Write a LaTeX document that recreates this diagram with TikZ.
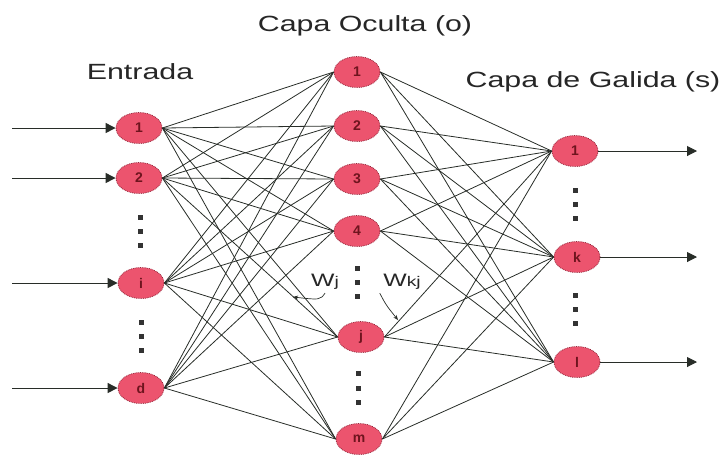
\documentclass[tikz,border=0pt]{standalone}
\usepackage{fontspec}
\setmainfont{Liberation Sans}
\newfontfamily\lab[FakeStretch=1.38]{Liberation Sans}
\usetikzlibrary{shapes.geometric,arrows.meta}
\definecolor{nfill}{RGB}{236,84,110}
\definecolor{nbord}{RGB}{150,40,60}
\definecolor{ntext}{RGB}{110,20,30}
\definecolor{wire}{RGB}{40,45,40}
\tikzset{
  neuron/.style={ellipse, draw=nbord, densely dotted, line width=0.8pt, fill=nfill,
     minimum width=46pt, minimum height=31pt, inner sep=0pt, text=ntext,
     font=\fontsize{14}{14}\selectfont\bfseries},
  wirel/.style={draw=wire, line width=0.8pt},
  io/.style={draw=wire, line width=1pt, -{Triangle[length=10pt,width=10pt]}},
  dotsq/.style={fill=black!80, minimum width=5pt, minimum height=5pt, inner sep=0pt},
  title/.style={font=\lab\fontsize{22}{26}\selectfont, text=black!85},
  wlab/.style={font=\lab\fontsize{18}{20}\selectfont, text=black!85},
  wtip/.style={draw=wire, line width=0.7pt, -{Stealth[length=5pt,width=4pt]}}
}
\begin{document}
\begin{tikzpicture}[x=1pt,y=-1pt]
\useasboundingbox (0,0) rectangle (727,459);
% titles
\node[title] (tO) at (365,26) {Capa Oculta (o)};
\node[title] (tE) at (140,72) {Entrada};
\node[title] (tS) at (593,82) {Capa de Galida (s)};
% input layer
\node[neuron] (i1) at (139,128) {1};
\node[neuron] (i2) at (139,178) {2};
\node[neuron] (ii) at (141,283) {i};
\node[neuron] (id) at (141,388) {d};
% hidden layer
\node[neuron] (h1) at (357,72) {1};
\node[neuron] (h2) at (357,126) {2};
\node[neuron] (h3) at (357,179) {3};
\node[neuron] (h4) at (357,231) {4};
\node[neuron] (hj) at (361,337) {j};
\node[neuron] (hm) at (359,439) {m};
% output layer
\node[neuron] (o1) at (575,151) {1};
\node[neuron] (ok) at (577,257) {k};
\node[neuron] (ol) at (577,362) {l};
% connections input -> hidden
\foreach \a in {i1,i2,ii,id}{
  \foreach \b in {h1,h2,h3,h4,hj,hm}{
    \draw[wirel] (\a.east) -- (\b.west);
  }
}
% connections hidden -> output
\foreach \a in {h1,h2,h3,h4,hj,hm}{
  \foreach \b in {o1,ok,ol}{
    \draw[wirel] (\a.east) -- (\b.west);
  }
}
% input arrows
\coordinate (s1) at (12,128);
\coordinate (s2) at (12,178);
\coordinate (si) at (12,283);
\coordinate (sd) at (12,388);
\draw[io] (s1) -- (i1.west);
\draw[io] (s2) -- (i2.west);
\draw[io] (si) -- (ii.west);
\draw[io] (sd) -- (id.west);
% output arrows
\coordinate (e1) at (697,151);
\coordinate (ek) at (697,257);
\coordinate (el) at (697,362);
\draw[io] (o1.east) -- (e1);
\draw[io] (ok.east) -- (ek);
\draw[io] (ol.east) -- (el);
% dots
\foreach \y [count=\n] in {217,231,245}{\node[dotsq] (da\n) at (140,\y) {};}
\foreach \y [count=\n] in {322,336,350}{\node[dotsq] (db\n) at (141,\y) {};}
\foreach \y [count=\n] in {268,282,296}{\node[dotsq] (dc\n) at (357,\y) {};}
\foreach \y [count=\n] in {373,388,402}{\node[dotsq] (dd\n) at (358,\y) {};}
\foreach \y [count=\n] in {190,204,218}{\node[dotsq] (de\n) at (575,\y) {};}
\foreach \y [count=\n] in {295,309,323}{\node[dotsq] (df\n) at (575,\y) {};}
% weight labels
\node[wlab] (wj) at (325,282) {W{\fontsize{14}{14}\selectfont j}};
\node[wlab] (wkj) at (402,282) {W{\fontsize{14}{14}\selectfont kj}};
\coordinate (wjt) at (293,297);
\coordinate (wkjt) at (398,320);
\draw[wtip] (wj.south) .. controls (320,300) .. (wjt);
\draw[wtip] (wkj.south west) .. controls (386,305) .. (wkjt);
\end{tikzpicture}
\end{document}
